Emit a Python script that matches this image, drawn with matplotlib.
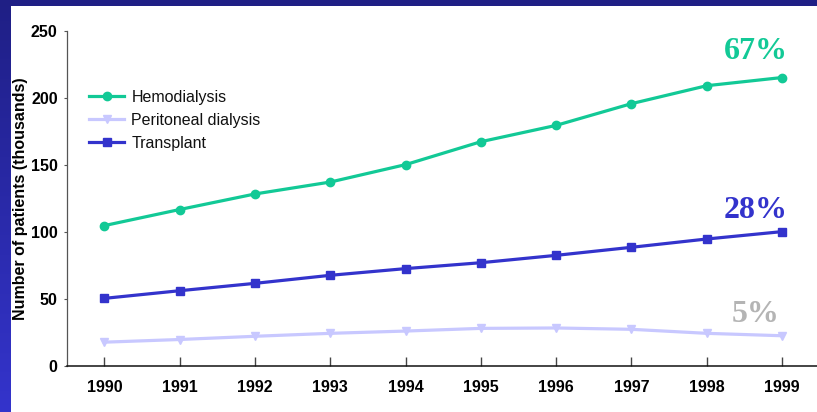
import numpy as np
import matplotlib
matplotlib.use("Agg")
import matplotlib.pyplot as plt
from matplotlib.colors import LinearSegmentedColormap
from matplotlib.patches import Rectangle

# Patients on renal replacement therapy, in thousands
years = [1990, 1991, 1992, 1993, 1994, 1995, 1996, 1997, 1998, 1999]
hemodialysis = [105, 117, 128.6, 137.5, 150.5, 167.6, 179.8, 196, 209.4, 215.5]
peritoneal = [18, 20, 22.4, 24.6, 26.3, 28.3, 28.6, 27.6, 24.6, 22.8]
transplant = [50.7, 56.4, 61.9, 67.9, 72.9, 77.3, 82.8, 88.8, 95, 100.5]

series_labels = ["Hemodialysis", "Peritoneal dialysis", "Transplant"]
share_labels = ["67%", "5%", "28%"]
yticks = [0, 50, 100, 150, 200, 250]

GREEN = "#12c996"
LAVENDER = "#c8c8ff"
BLUE = "#3333cc"
GREY = "#b4b4b4"

W, H = 817, 412
fig = plt.figure(figsize=(W / 100, H / 100), dpi=100, facecolor="white")

# Slide frame: navy band on top, blue gradient band on the left
bg = fig.add_axes([0, 0, 1, 1], zorder=-10)
bg.axis("off")
cmap = LinearSegmentedColormap.from_list("band", ["#1f1f85", "#3434cc"])
grad = np.linspace(0, 1, 256).reshape(-1, 1)
bg.imshow(grad, cmap=cmap, extent=(0, 11, H, 0), aspect="auto")
bg.add_patch(Rectangle((0, 0), W, 6, color="#1f1f85", lw=0))
bg.set_xlim(0, W)
bg.set_ylim(H, 0)

ax = fig.add_axes([66.7 / W, 45.7 / H, 753 / W, 335 / H], facecolor="none")

ax.plot(years, hemodialysis, color=GREEN, lw=2.3, marker="o", ms=6,
        label=series_labels[0], clip_on=False)
ax.plot(years, peritoneal, color=LAVENDER, lw=2.3, marker="v", ms=6,
        label=series_labels[1], clip_on=False)
ax.plot(years, transplant, color=BLUE, lw=2.3, marker="s", ms=5.5,
        label=series_labels[2], clip_on=False)

ax.set_xlim(1989.5, 1999.5)
ax.set_ylim(0, 250)

for s in ("top", "right"):
    ax.spines[s].set_visible(False)
ax.spines["left"].set_color("#555555")
ax.spines["left"].set_linewidth(0.9)
ax.spines["bottom"].set_color("#111111")
ax.spines["bottom"].set_linewidth(1.1)

tick_font = dict(family="Liberation Sans", weight="bold", size=11.5)
ax.set_xticks(years)
ax.set_xticklabels([str(y) for y in years], **tick_font)
ax.set_yticks(yticks)
ax.set_yticklabels([str(v) for v in yticks], **tick_font)
ax.tick_params(axis="x", direction="in", length=6.5, width=1.0,
               color="#444444", pad=10)
ax.tick_params(axis="y", direction="out", length=2.5, width=0.8,
               color="#555555", pad=4)

ax.set_ylabel("Number of patients (thousands)", family="Liberation Sans",
              weight="bold", size=11.5, va="center")
ax.yaxis.set_label_coords(-46.0 / 753, 0.5)

leg = ax.legend(loc="upper left", bbox_to_anchor=(89 / W, 1 - 90 / H),
                bbox_transform=fig.transFigure, frameon=False,
                prop=dict(family="Liberation Sans", size=11.5),
                handlelength=2.2, handletextpad=0.45, labelspacing=0.5,
                borderpad=0, borderaxespad=0)
for t in leg.get_texts():
    t.set_color("#111111")

pct_font = dict(family="Liberation Serif", weight="bold", size=23,
                ha="center", va="center")
ax.text(1998.65, 235.0, share_labels[0], color=GREEN, **pct_font)
ax.text(1998.65, 38.5, share_labels[1], color=GREY, **pct_font)
ax.text(1998.65, 116, share_labels[2], color=BLUE, **pct_font)

fig.savefig("out.png", dpi=100, facecolor="white")
